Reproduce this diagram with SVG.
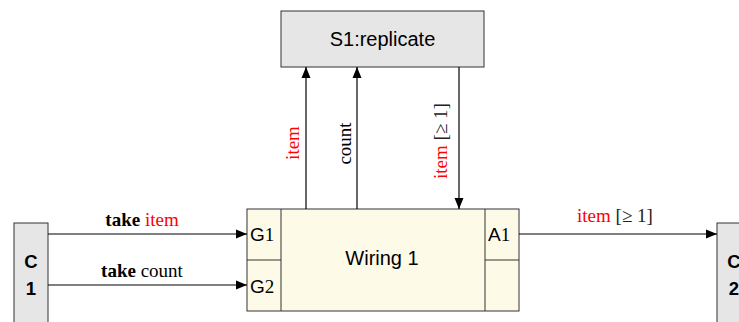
<svg xmlns="http://www.w3.org/2000/svg" width="739" height="322" viewBox="0 0 739 322">
<style>
.box{fill:#e6e6e6;stroke:#333;stroke-width:1}
.wire{fill:#fefae8;stroke:#333;stroke-width:1}
.sans{font-family:"Liberation Sans",Arial,sans-serif;fill:#000}
.serif{font-family:"Liberation Serif","Times New Roman",serif;font-size:19px;fill:#000}
.red{fill:#ff0000}
.gray{fill:#222}
.edge{stroke:#000;stroke-width:1.2;fill:none}
.div{stroke:#333;stroke-width:1;fill:none}
</style>
<defs>
<marker id="ah" viewBox="0 0 11 10" refX="11" refY="5" markerWidth="11" markerHeight="10" markerUnits="userSpaceOnUse" orient="auto">
<path d="M0,0.5 L11,5 L0,9.5 Z" fill="#000"/>
</marker>
</defs>
<rect width="739" height="322" fill="#fff"/>
<g id="S1">
<rect class="box" x="281" y="11" width="203" height="56"/>
<text class="sans" x="382.5" y="45.5" font-size="20" text-anchor="middle">S1:replicate</text>
</g>
<g id="C1">
<rect class="box" x="14" y="223" width="34" height="110"/>
<text class="sans" x="31" y="268" font-size="18.5" font-weight="bold" text-anchor="middle">C</text>
<text class="sans" x="31" y="295" font-size="18.5" font-weight="bold" text-anchor="middle">1</text>
</g>
<g id="C2">
<rect class="box" x="717" y="223" width="34" height="110"/>
<text class="sans" x="734" y="268" font-size="18.5" font-weight="bold" text-anchor="middle">C</text>
<text class="sans" x="734" y="295" font-size="18.5" font-weight="bold" text-anchor="middle">2</text>
</g>
<g id="Wiring1">
<rect class="wire" x="247" y="209" width="272" height="102"/>
<line class="div" x1="281" y1="209" x2="281" y2="311"/>
<line class="div" x1="485" y1="209" x2="485" y2="311"/>
<line class="div" x1="247" y1="260" x2="281" y2="260"/>
<line class="div" x1="485" y1="260" x2="519" y2="260"/>
<text class="sans" x="382" y="265" font-size="20" text-anchor="middle">Wiring 1</text>
<text x="250" y="241"><tspan class="sans" font-size="19">G</tspan><tspan class="serif" font-size="20">1</tspan></text>
<text x="250" y="293"><tspan class="sans" font-size="19">G</tspan><tspan class="serif" font-size="20">2</tspan></text>
<text x="488" y="241"><tspan class="sans" font-size="19">A</tspan><tspan class="serif" font-size="20">1</tspan></text>
</g>
<g id="connectors">
<line class="edge" x1="48" y1="234" x2="247" y2="234" marker-end="url(#ah)"/>
<line class="edge" x1="48" y1="285" x2="247" y2="285" marker-end="url(#ah)"/>
<line class="edge" x1="519" y1="234" x2="717" y2="234" marker-end="url(#ah)"/>
<line class="edge" x1="306" y1="209" x2="306" y2="67" marker-end="url(#ah)"/>
<line class="edge" x1="357" y1="209" x2="357" y2="67" marker-end="url(#ah)"/>
<line class="edge" x1="459" y1="67" x2="459" y2="209" marker-end="url(#ah)"/>
<text class="serif" x="142" y="226" text-anchor="middle"><tspan font-weight="bold">take</tspan> <tspan class="red">item</tspan></text>
<text class="serif" x="142" y="277" text-anchor="middle"><tspan font-weight="bold">take</tspan> count</text>
<text class="serif" x="615" y="222" text-anchor="middle"><tspan class="red">item</tspan> <tspan class="gray">[≥ 1]</tspan></text>
<text class="serif red" transform="translate(298.5,143) rotate(-90)" text-anchor="middle">item</text>
<text class="serif" transform="translate(351,143.5) rotate(-90)" text-anchor="middle">count</text>
<text class="serif" transform="translate(447,141) rotate(-90)" text-anchor="middle"><tspan class="red">item</tspan> <tspan class="gray">[≥ 1]</tspan></text>
</g>
</svg>
